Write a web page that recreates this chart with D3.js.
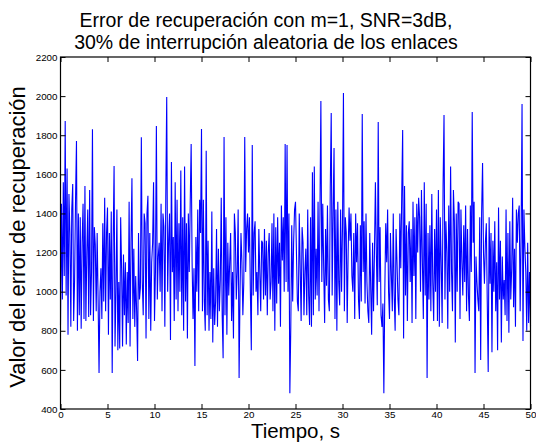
<!DOCTYPE html>
<html>
<head>
<meta charset="utf-8">
<script src="https://cdn.jsdelivr.net/npm/d3@7"></script>
<style>
  body { margin: 0; background: #fff; }
  text { font-family: "Liberation Sans", Arial, sans-serif; }
</style>
</head>
<body>
<div id="chart"></div>
<script>
// Error de recuperación, one value every 0.1 s from t = 0 to t = 50
const errorValues = [
  830, 1450, 960, 1560, 1080, 1873, 980, 1630, 780, 1500,
  1300, 820, 1420, 1550, 850, 1060, 1470, 1770, 800, 1400,
  880, 1380, 810, 1250, 1450, 860, 1540, 850, 1200, 1420,
  870, 1520, 880, 1100, 1830, 850, 1330, 1240, 900, 1300,
  960, 584, 1000, 1120, 860, 1350, 950, 1480, 900, 1300,
  1430, 780, 1300, 960, 1410, 584, 1250, 1643, 720, 1000,
  1420, 700, 1050, 710, 1380, 1120, 720, 1190, 880, 1150,
  730, 1100, 840, 1460, 720, 1250, 1580, 860, 1220, 820,
  1080, 900, 645, 1300, 960, 1020, 1790, 1050, 880, 1400,
  1350, 760, 1400, 1490, 860, 1300, 800, 1150, 1250, 1560,
  850, 1100, 1847, 960, 1180, 1250, 1000, 1450, 900, 1400,
  1330, 820, 1480, 1995, 1000, 1260, 1400, 753, 1663, 1100,
  1280, 850, 1560, 960, 1470, 900, 1350, 1000, 1620, 880,
  1380, 800, 1640, 950, 1350, 760, 1400, 1100, 1450, 1755,
  1150, 860, 1120, 620, 1280, 1000, 1420, 900, 1470, 1300,
  1832, 900, 1470, 950, 800, 1720, 880, 1260, 800, 1100,
  860, 1410, 740, 1120, 830, 950, 1320, 820, 1220, 900,
  1060, 1480, 880, 660, 1791, 880, 1380, 780, 1250, 980,
  1150, 1300, 850, 1100, 760, 1400, 1300, 960, 1100, 1420,
  558, 1000, 1300, 1150, 880, 1050, 1791, 1100, 1320, 1400,
  1200, 1380, 1000, 700, 1750, 980, 1300, 1360, 1000, 1100,
  880, 1320, 1100, 900, 1260, 1250, 960, 1320, 980, 1260,
  880, 1200, 1300, 960, 1050, 1350, 900, 1400, 800, 1330,
  940, 1380, 1040, 1250, 820, 1440, 1160, 1380, 1000, 1755,
  1050, 1750, 1000, 1400, 480, 820, 1340, 950, 1250, 1420,
  1460, 1200, 950, 900, 1400, 1120, 850, 1330, 1250, 880,
  1100, 1220, 880, 1420, 980, 830, 1380, 820, 1610, 880,
  1640, 960, 1220, 980, 1460, 900, 1400, 1975, 1050, 1450,
  1120, 840, 1320, 1030, 1440, 960, 900, 1530, 1914, 980,
  1400, 1735, 860, 1420, 800, 1460, 1050, 930, 1420, 1000,
  1330, 2016, 900, 1380, 1300, 840, 1200, 1430, 1260, 1400,
  1080, 1000, 1300, 860, 1400, 1150, 1350, 960, 860, 1340,
  950, 1909, 1100, 1360, 940, 1400, 1050, 900, 840, 1300,
  1020, 780, 1250, 900, 1200, 1560, 1200, 930, 1868, 1050,
  1330, 880, 820, 940, 480, 1000, 1350, 1150, 1420, 1000,
  860, 1300, 1080, 900, 1400, 980, 800, 1320, 1150, 960,
  880, 1400, 1120, 1490, 1827, 760, 1540, 980, 1340, 850,
  1300, 1360, 1050, 1320, 840, 1460, 1080, 1380, 860, 1450,
  1200, 1480, 1380, 1000, 1520, 1150, 860, 1560, 980, 1450,
  558, 1300, 960, 1340, 900, 1500, 1050, 850, 1320, 1000,
  1420, 850, 1520, 820, 1380, 1150, 840, 1540, 1904, 960,
  1360, 1200, 810, 1440, 1000, 1640, 1100, 900, 1520, 1360,
  740, 1400, 1000, 1460, 1450, 860, 1420, 1150, 980, 1340,
  1050, 1440, 900, 1320, 980, 850, 1440, 1100, 1919, 1250,
  1460, 584, 1180, 1050, 960, 900, 1380, 650, 1400, 1658,
  1200, 1040, 1250, 1350, 950, 589, 1380, 1040, 1300, 690,
  1260, 1000, 1360, 900, 1150, 700, 1430, 960, 1260, 740,
  1180, 960, 1060, 880, 1420, 850, 1300, 790, 1360, 960,
  1120, 1480, 920, 1220, 820, 1420, 1250, 1400, 1440, 900,
  1280, 1960, 748, 1420, 1230, 1100, 800, 1250, 840, 1100,
  820
];
const timeStep = 0.1;

const xTicks = [0, 5, 10, 15, 20, 25, 30, 35, 40, 45, 50];
const yTicks = [400, 600, 800, 1000, 1200, 1400, 1600, 1800, 2000, 2200];

const titleLines = ["Error de recuperación con m=1, SNR=3dB,",
                    "30% de interrupción aleatoria de los enlaces"];
const xLabel = "Tiempo, s";
const yLabel = "Valor del error de recuperación";

const width = 536, height = 443;
const margin = {top: 57, right: 6, bottom: 34, left: 60.5};
const plotW = 470, plotH = 352;

const svg = d3.select("#chart")
    .append("svg")
    .attr("width", width)
    .attr("height", height);

const x = d3.scaleLinear().domain([0, 50]).range([margin.left, margin.left + plotW]);
const y = d3.scaleLinear().domain([400, 2200]).range([margin.top + plotH, margin.top]);

// data line
const line = d3.line()
    .x((d, i) => x(i * timeStep))
    .y(d => y(d));

svg.append("path")
    .datum(errorValues)
    .attr("d", line)
    .attr("fill", "none")
    .attr("stroke", "#0000ff")
    .attr("stroke-width", 1.1);

// axes, MATLAB style: ticks inward on all four sides
const tickLen = 5;
const fontSize = "9.8px";
const fmt = d3.format("d");

const xBottom = svg.append("g")
    .attr("transform", `translate(0,${margin.top + plotH})`)
    .call(d3.axisBottom(x).tickValues(xTicks).tickSize(-tickLen).tickPadding(4).tickFormat(fmt));
const xTop = svg.append("g")
    .attr("transform", `translate(0,${margin.top})`)
    .call(d3.axisTop(x).tickValues(xTicks).tickSize(-tickLen).tickFormat(""));
const yLeft = svg.append("g")
    .attr("transform", `translate(${margin.left},0)`)
    .call(d3.axisLeft(y).tickValues(yTicks).tickSize(-tickLen).tickPadding(3).tickFormat(fmt));
const yRight = svg.append("g")
    .attr("transform", `translate(${margin.left + plotW},0)`)
    .call(d3.axisRight(y).tickValues(yTicks).tickSize(-tickLen).tickFormat(""));

[xBottom, xTop, yLeft, yRight].forEach(g => {
    g.select(".domain").remove();
    g.selectAll(".tick line").attr("stroke", "#000").attr("stroke-width", 1);
    g.selectAll(".tick text")
        .attr("fill", "#000")
        .style("font-size", fontSize)
        .style("font-family", "'Liberation Sans', Arial, sans-serif");
});
xBottom.selectAll(".tick text").attr("dy", "0.5em");

// box
svg.append("rect")
    .attr("x", margin.left)
    .attr("y", margin.top)
    .attr("width", plotW)
    .attr("height", plotH)
    .attr("fill", "none")
    .attr("stroke", "#000")
    .attr("stroke-width", 1.2);

// title
svg.append("g")
    .selectAll("text")
    .data(titleLines)
    .enter()
    .append("text")
    .attr("x", 266)
    .attr("y", (d, i) => 26.5 + i * 22.5)
    .attr("text-anchor", "middle")
    .style("font-size", "19.5px")
    .attr("fill", "#000")
    .text(d => d);

// axis labels
svg.append("text")
    .attr("x", margin.left + plotW / 2)
    .attr("y", 437.5)
    .attr("text-anchor", "middle")
    .style("font-size", "20.5px")
    .attr("fill", "#000")
    .text(xLabel);

svg.append("text")
    .attr("transform", `translate(25,${margin.top + plotH / 2 + 4}) rotate(-90)`)
    .attr("text-anchor", "middle")
    .style("font-size", "22px")
    .attr("fill", "#000")
    .text(yLabel);
</script>
</body>
</html>
